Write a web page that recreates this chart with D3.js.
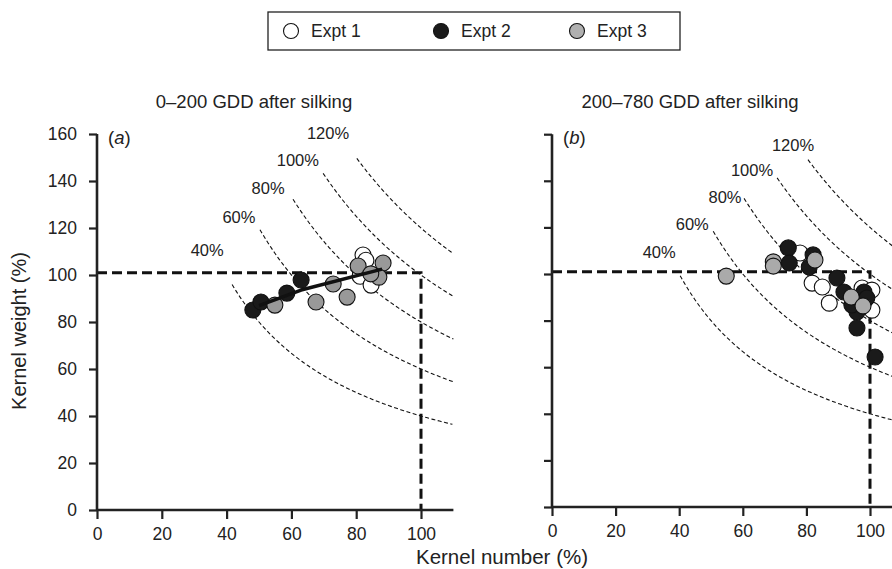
<!DOCTYPE html>
<html>
  <head>
    <title>Kernel number vs kernel weight</title>
    <script src="https://cdn.jsdelivr.net/npm/d3@7/dist/d3.min.js"></script>
    <style>
      body { margin: 0; background: #fff; }
      text { font-family: "Liberation Sans", Arial, sans-serif; fill: #222; }
    </style>
  </head>
  <body>
    <svg width="892" height="569" id="mainsvg"></svg>
    <script>
      // iso-yield curves: kernel number * kernel weight / 100 = level
      const isoLevels = [40, 60, 80, 100, 120];
      const isoStartA = [41.7, 50.3, 60.5, 69.8, 80.2];
      const isoStartB = [40.3, 50.7, 60.4, 70.8, 80.5];
      const isoLabelXA = [34, 43.8, 52.8, 62, 71.3];
      const isoLabelYA = [110.6, 124.7, 137, 149, 160.4];
      const isoLabelXB = [33.7, 44.1, 54.4, 62.9, 75.8];
      const isoLabelYB = [109.4, 121.5, 133, 144.6, 155.4];

      // panel (a) 0-200 GDD
      const expt1A_x = [82.1, 83.0, 81.2, 84.6];
      const expt1A_y = [108.5, 106.3, 99.5, 95.7];
      const expt2A_x = [48.1, 50.6, 58.6, 63.0];
      const expt2A_y = [85.1, 88.5, 92.3, 97.9];
      const expt3A_x = [54.9, 67.6, 72.9, 77.2, 80.6, 88.3, 87.0, 84.5];
      const expt3A_y = [87.2, 88.5, 96.2, 90.6, 103.8, 105.1, 99.1, 100.5];
      const trendA_x = [50, 63, 88];
      const trendA_y = [87, 93.6, 102.5];

      // panel (b) 200-780 GDD
      const expt1B_x = [78.0, 81.8, 85.0, 87.2, 97.5, 100.6, 100.6, 98.4];
      const expt1B_y = [109.0, 96.1, 94.4, 87.5, 94.0, 93.1, 84.5, 88.8];
      const expt2B_x = [74.3, 74.6, 82.1, 80.9, 89.6, 91.8, 98.1, 99.0, 95.9, 95.9, 101.6, 94.3];
      const expt2B_y = [111.2, 104.7, 108.2, 103.0, 98.3, 92.3, 92.3, 89.7, 83.7, 76.8, 64.4, 86.7];
      const expt3B_x = [54.8, 69.6, 69.6, 82.7, 94.1, 97.8];
      const expt3B_y = [99.1, 105.2, 103.4, 106.0, 90.1, 86.3];

      const xTicks = [0, 20, 40, 60, 80, 100];
      const yTicks = [0, 20, 40, 60, 80, 100, 120, 140, 160];
      const legendNames = ['Expt 1', 'Expt 2', 'Expt 3'];

      const svg = d3.select('#mainsvg');
      const fills = ['#ffffff', '#1a1a1a', '#a9a9a9'];

      const zip = (xs, ys) => xs.map((x, i) => [x, ys[i]]);

      const panels = [
        {
          title: '0–200 GDD after silking', tag: 'a', cx: 254,
          x0: 97, x100: 421, y0: 510, ySpan: 2.35, yLabels: true,
          isoStart: isoStartA, labX: isoLabelXA, labY: isoLabelYA,
          sets: [zip(expt1A_x, expt1A_y), zip(expt2A_x, expt2A_y), zip(expt3A_x, expt3A_y)],
          gray: '#999999',
          trend: zip(trendA_x, trendA_y)
        },
        {
          title: '200–780 GDD after silking', tag: 'b', cx: 690,
          x0: 552, x100: 870, y0: 507, ySpan: 2.33, yLabels: false,
          isoStart: isoStartB, labX: isoLabelXB, labY: isoLabelYB,
          sets: [zip(expt1B_x, expt1B_y), zip(expt2B_x, expt2B_y), zip(expt3B_x, expt3B_y)],
          gray: '#aaaaaa',
          trend: null
        }
      ];

      panels.forEach(p => {
        const xScale = d3.scaleLinear().domain([0, 100]).range([p.x0, p.x100]);
        const yScale = d3.scaleLinear().domain([0, 160]).range([p.y0, p.y0 - 160 * p.ySpan]);
        const g = svg.append('g');

        // iso curves
        isoLevels.forEach((lvl, i) => {
          const pts = d3.range(p.isoStart[i], 110.01, 0.5).map(x => [x, lvl * 100 / x]);
          g.append('path')
            .attr('d', d3.line().x(d => xScale(d[0])).y(d => yScale(d[1]))(pts))
            .attr('fill', 'none').attr('stroke', '#111').attr('stroke-width', 1.1)
            .attr('stroke-dasharray', '4,2.5');
          g.append('text').text(lvl + '%')
            .attr('x', xScale(p.labX[i])).attr('y', yScale(p.labY[i]))
            .attr('text-anchor', 'middle').attr('dominant-baseline', 'central')
            .attr('font-size', 16.5);
        });

        // reference lines at 100%
        g.append('path')
          .attr('d', d3.line()([[xScale(0), yScale(101)], [xScale(100), yScale(101)], [xScale(100), yScale(0)]]))
          .attr('fill', 'none').attr('stroke', '#111').attr('stroke-width', 3)
          .attr('stroke-dasharray', '10,5');

        // axes
        const xAxis = d3.axisBottom(xScale).tickValues(xTicks).tickSize(9).tickPadding(9);
        const yAxis = d3.axisLeft(yScale).tickValues(yTicks).tickSize(8).tickPadding(12);
        if (!p.yLabels) yAxis.tickFormat('');
        const xg = g.append('g').attr('transform', `translate(0, ${p.y0})`).call(xAxis);
        xg.select('.domain').attr('d', `M${xScale(0)},0H${xScale(110)}`);
        const yg = g.append('g').attr('transform', `translate(${p.x0}, 0)`).call(yAxis);
        yg.select('.domain').attr('d', `M0,${yScale(0)}V${yScale(160)}`);
        [xg, yg].forEach(a => {
          a.select('.domain').attr('stroke', '#222').attr('stroke-width', 2.6);
          a.selectAll('.tick line').attr('stroke', '#222').attr('stroke-width', 2.2);
          a.selectAll('.tick text').attr('font-size', 17.5).attr('fill', '#222')
            .attr('font-family', '"Liberation Sans", Arial, sans-serif');
        });

        // points
        p.sets.forEach((set, k) => {
          g.selectAll(null).data(set).join('circle')
            .attr('cx', d => xScale(d[0])).attr('cy', d => yScale(d[1]))
            .attr('r', 8)
            .attr('fill', k === 2 ? p.gray : fills[k])
            .attr('stroke', '#111').attr('stroke-width', 1.1);
        });

        // trend line, drawn over the points
        if (p.trend) {
          g.append('path')
            .attr('d', d3.line().x(d => xScale(d[0])).y(d => yScale(d[1]))(p.trend))
            .attr('fill', 'none').attr('stroke', '#111').attr('stroke-width', 3.5)
            .attr('stroke-linejoin', 'round');
        }

        // titles
        svg.append('text').text(p.title)
          .attr('x', p.cx).attr('y', 101).attr('text-anchor', 'middle')
          .attr('dominant-baseline', 'central').attr('font-size', 18.5);
        const tag = svg.append('text').attr('x', p.x0 + 11).attr('y', yScale(160) + 3)
          .attr('dominant-baseline', 'central').attr('font-size', 18.5);
        tag.append('tspan').text('(');
        tag.append('tspan').text(p.tag).attr('font-style', 'italic');
        tag.append('tspan').text(')');
      });

      // axis titles
      svg.append('text').text('Kernel number (%)')
        .attr('x', 502).attr('y', 556).attr('text-anchor', 'middle')
        .attr('dominant-baseline', 'central').attr('font-size', 20.5);
      svg.append('text').text('Kernel weight (%)')
        .attr('transform', 'translate(19, 331) rotate(-90)')
        .attr('text-anchor', 'middle').attr('dominant-baseline', 'central')
        .attr('font-size', 20);

      // legend
      const lg = svg.append('g');
      lg.append('rect').attr('x', 268).attr('y', 12).attr('width', 412).attr('height', 38)
        .attr('fill', '#fff').attr('stroke', '#222').attr('stroke-width', 1.3);
      const legendX = [291, 441, 577];
      legendNames.forEach((name, i) => {
        lg.append('circle').attr('cx', legendX[i]).attr('cy', 31).attr('r', 7.5)
          .attr('fill', i === 2 ? '#b0b0b0' : fills[i]).attr('stroke', '#111').attr('stroke-width', 1.1);
        lg.append('text').text(name).attr('x', legendX[i] + 20).attr('y', 31)
          .attr('dominant-baseline', 'central').attr('font-size', 17.5);
      });
    </script>
  </body>
</html>
